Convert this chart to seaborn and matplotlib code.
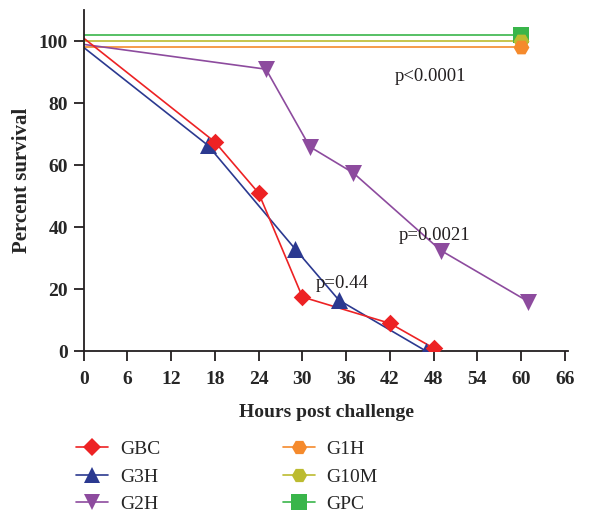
import pandas as pd
import matplotlib
matplotlib.use("Agg")
import matplotlib.pyplot as plt
import seaborn as sns
from matplotlib.lines import Line2D

sns.set_style("ticks")
plt.rcParams['font.family'] = ['Liberation Serif', 'DejaVu Serif']

# -------------------------------
# data
# -------------------------------
groups = ["GBC", "G3H", "G2H", "G1H", "G10M", "GPC"]
gbc_t = [0, 18, 24, 30, 42, 48]
gbc_s = [101, 67.5, 51, 17.5, 9, 1]
g3h_t = [0, 17, 29, 35, 47]
g3h_s = [98, 66.5, 33, 16.5, 0]
g2h_t = [0, 25, 31, 37, 49, 61]
g2h_s = [99, 91, 66, 57.5, 32.5, 16]
g1h_t = [0, 60]
g1h_s = [98, 98]
g10m_t = [0, 60]
g10m_s = [100, 100]
gpc_t = [0, 60]
gpc_s = [102, 102]

p_labels = ["p<0.0001", "p=0.0021", "p=0.44"]
p_x = [42.7, 43.2, 31.8]
p_y = [88.5, 37.5, 22]

times = [gbc_t, g3h_t, g2h_t, g1h_t, g10m_t, gpc_t]
surv = [gbc_s, g3h_s, g2h_s, g1h_s, g10m_s, gpc_s]
rows = []
for g, t, s in zip(groups, times, surv):
    for ti, si in zip(t, s):
        rows.append({"group": g, "hours": ti, "survival": si})
df = pd.DataFrame(rows)

colors = {"GBC": "#ED2224", "G3H": "#2B3990", "G2H": "#8D4B9E",
          "G1H": "#F58A2C", "G10M": "#BCBB30", "GPC": "#39B54A"}
markers = {"GBC": "D", "G3H": "^", "G2H": "v",
           "G1H": "H", "G10M": "H", "GPC": "s"}
msize = {"GBC": 80, "G3H": 150, "G2H": 150, "G1H": 130, "G10M": 130, "GPC": 130}
draw_order = ["GPC", "G10M", "G1H", "G2H", "G3H", "GBC"]

# -------------------------------
# plot
# -------------------------------
fig = plt.figure(figsize=(5.94, 5.15), dpi=100)
ax = fig.add_axes([0.141, 0.318, 0.816, 0.662])

for g in draw_order:
    sub = df[df["group"] == g]
    sns.lineplot(data=sub, x="hours", y="survival", color=colors[g],
                 lw=1.2, ax=ax, legend=False)
    pts = sub[sub["hours"] > 0]
    sns.scatterplot(data=pts, x="hours", y="survival", color=colors[g],
                    marker=markers[g], s=msize[g], linewidth=0, ax=ax,
                    legend=False, zorder=3)

for lab, x, y in zip(p_labels, p_x, p_y):
    ax.text(x, y, lab, fontsize=13.5, color="#231f20", ha="left", va="center")

ax.set_xlim(0, 66.5)
ax.set_ylim(0, 110)
ax.set_xticks(range(0, 67, 6))
ax.set_yticks(range(0, 101, 20))
ax.spines[['top', 'right']].set_visible(False)
for sp in ['left', 'bottom']:
    ax.spines[sp].set_linewidth(1.3)
    ax.spines[sp].set_color("#231f20")
ax.tick_params(length=7, width=1.3, color="#231f20", labelsize=14)
ax.tick_params(axis="x", pad=7)
ax.tick_params(axis="y", pad=4.5)
for lab in ax.get_xticklabels() + ax.get_yticklabels():
    lab.set_fontweight("bold")
ax.set_xlabel("Hours post challenge", fontsize=14, fontweight="bold", labelpad=12)
ax.set_ylabel("Percent survival", fontsize=15, fontweight="bold", labelpad=5)

handles = [Line2D([0], [0], color=colors[g], marker=markers[g], lw=1.2,
                  markersize=11 if markers[g] != "D" else 9, markeredgewidth=0)
           for g in groups]
fig.legend(handles=handles, labels=groups, ncol=2, frameon=False,
           loc="lower left", bbox_to_anchor=(0.102, -0.026),
           fontsize=14, handlelength=1.65, columnspacing=6.3,
           labelspacing=0.5, handletextpad=0.6, borderpad=0.3)

fig.savefig("out.png", dpi=100)
